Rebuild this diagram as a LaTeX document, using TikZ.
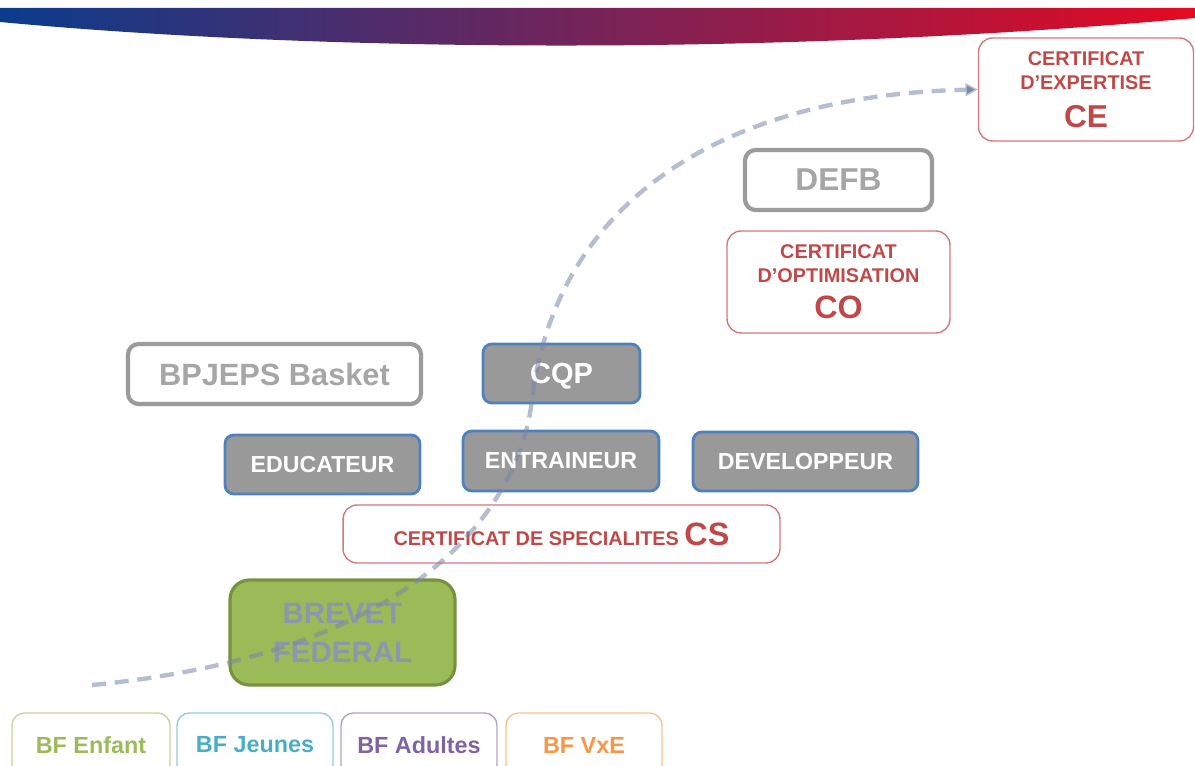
\documentclass[tikz,border=0pt]{standalone}
\usepackage{fontspec}
\setmainfont{Liberation Sans}
\usetikzlibrary{arrows.meta,shadows}

\definecolor{certred}{RGB}{192,72,72}
\definecolor{certline}{RGB}{214,120,120}
\definecolor{defgray}{RGB}{166,166,166}
\definecolor{defline}{RGB}{155,155,155}
\definecolor{fillgray}{RGB}{153,153,153}
\definecolor{lineblue}{RGB}{79,129,189}
\definecolor{bfgreen}{RGB}{155,187,89}
\definecolor{bfgreenline}{RGB}{118,146,60}
\definecolor{bftext}{RGB}{140,150,172}
\definecolor{enfant}{RGB}{155,187,89}
\definecolor{jeunes}{RGB}{75,172,198}
\definecolor{adultes}{RGB}{128,100,162}
\definecolor{vxe}{RGB}{247,150,70}
\definecolor{flowgray}{RGB}{120,135,170}
\definecolor{bannerblue}{RGB}{10,60,140}
\definecolor{bannerpurple}{RGB}{105,35,95}
\definecolor{bannerred}{RGB}{228,10,35}

\tikzset{
  certbox/.style={draw=certline, line width=0.8pt, rounded corners=8pt, text=certred,
    font=\bfseries\fontsize{11.3}{13.7}\selectfont, align=center, inner sep=0pt},
  diplome/.style={draw=defline, line width=2.4pt, fill=white, rounded corners=6pt, text=defgray,
    font=\bfseries\fontsize{17.5}{20}\selectfont, text depth=0pt,
    drop shadow={opacity=0.25,shadow xshift=0.5pt,shadow yshift=-1.2pt}},
  specbox/.style={draw=lineblue, line width=1.6pt, fill=fillgray, rounded corners=5pt, text=white,
    font=\bfseries\fontsize{13.2}{15}\selectfont, text depth=0pt},
  bfbox/.style={draw=#1!60, line width=0.8pt, rounded corners=7pt, text=#1,
    font=\bfseries\fontsize{13.3}{15}\selectfont, minimum width=3.12cm, minimum height=1.28cm},
  flowline/.style={draw=flowgray, draw opacity=0.55, line width=2.5pt, dash pattern=on 8pt off 5pt,
    -{Triangle[length=7pt,width=7pt]}}
}

\begin{document}
\begin{tikzpicture}[x=0.02cm,y=-0.02cm]
  \useasboundingbox (0,0) rectangle (1195,766);
  \clip (0,0) rectangle (1195,766);

  \shade[left color=bannerblue, middle color=bannerpurple, right color=bannerred]
    (0,8) -- (1195,8) -- (1195,18) .. controls (750,58) and (300,50) .. (0,22) -- cycle;

  \node (ce) at (1086,89.5) [certbox, minimum width=4.3cm, minimum height=2.06cm]
    {CERTIFICAT\\D’EXPERTISE\\[8pt]{\fontsize{18}{20}\selectfont CE}};
  \node (defb) at (838.5,180) [diplome, minimum width=3.74cm, minimum height=1.2cm,
    font=\bfseries\fontsize{18}{20}\selectfont] {DEFB};
  \node (co) at (838.5,282) [certbox, minimum width=4.46cm, minimum height=2.04cm]
    {CERTIFICAT\\D’OPTIMISATION\\[7pt]{\fontsize{18.4}{20}\selectfont CO}};

  \node (bpjeps) at (274.5,374) [diplome, minimum width=5.86cm, minimum height=1.2cm] {BPJEPS Basket};
  \node (cqp) at (561.5,373.5) [specbox, minimum width=3.14cm, minimum height=1.18cm,
    font=\bfseries\fontsize{16.5}{18}\selectfont] {CQP};

  \node (educ) at (322.5,464.5) [specbox, minimum width=3.9cm, minimum height=1.18cm] {EDUCATEUR};
  \node (entr) at (561,461) [specbox, minimum width=3.92cm, minimum height=1.2cm] {ENTRAINEUR};
  \node (dev) at (805.5,461.5) [specbox, minimum width=4.5cm, minimum height=1.18cm] {DEVELOPPEUR};

  \node (cs) at (561.5,534) [certbox, minimum width=8.74cm, minimum height=1.16cm]
    {CERTIFICAT DE SPECIALITES {\fontsize{18.4}{20}\selectfont CS}};

  \node (brevet) at (342.5,632.5) [draw=bfgreenline, line width=1.8pt, fill=bfgreen, rounded corners=11pt,
    minimum width=4.5cm, minimum height=2.1cm, text=bftext, align=center,
    font=\bfseries\fontsize{16.8}{22.2}\selectfont] {BREVET\\FEDERAL};

  \node (enfant) at (91,745) [bfbox=enfant, minimum width=3.16cm] {BF Enfant};
  \node (jeunes) at (255,745) [bfbox=jeunes] {BF Jeunes};
  \node (adultes) at (419,745) [bfbox=adultes] {BF Adultes};
  \node (vxe) at (584,745) [bfbox=vxe] {BF VxE};

  \coordinate (start) at (92,685);
  \coordinate (turn) at (532,400);
  \draw[flowline] (start) .. controls (430,652) and (520,500) .. (turn)
    .. controls (556,200) and (725,95) .. (ce.west);
\end{tikzpicture}
\end{document}
